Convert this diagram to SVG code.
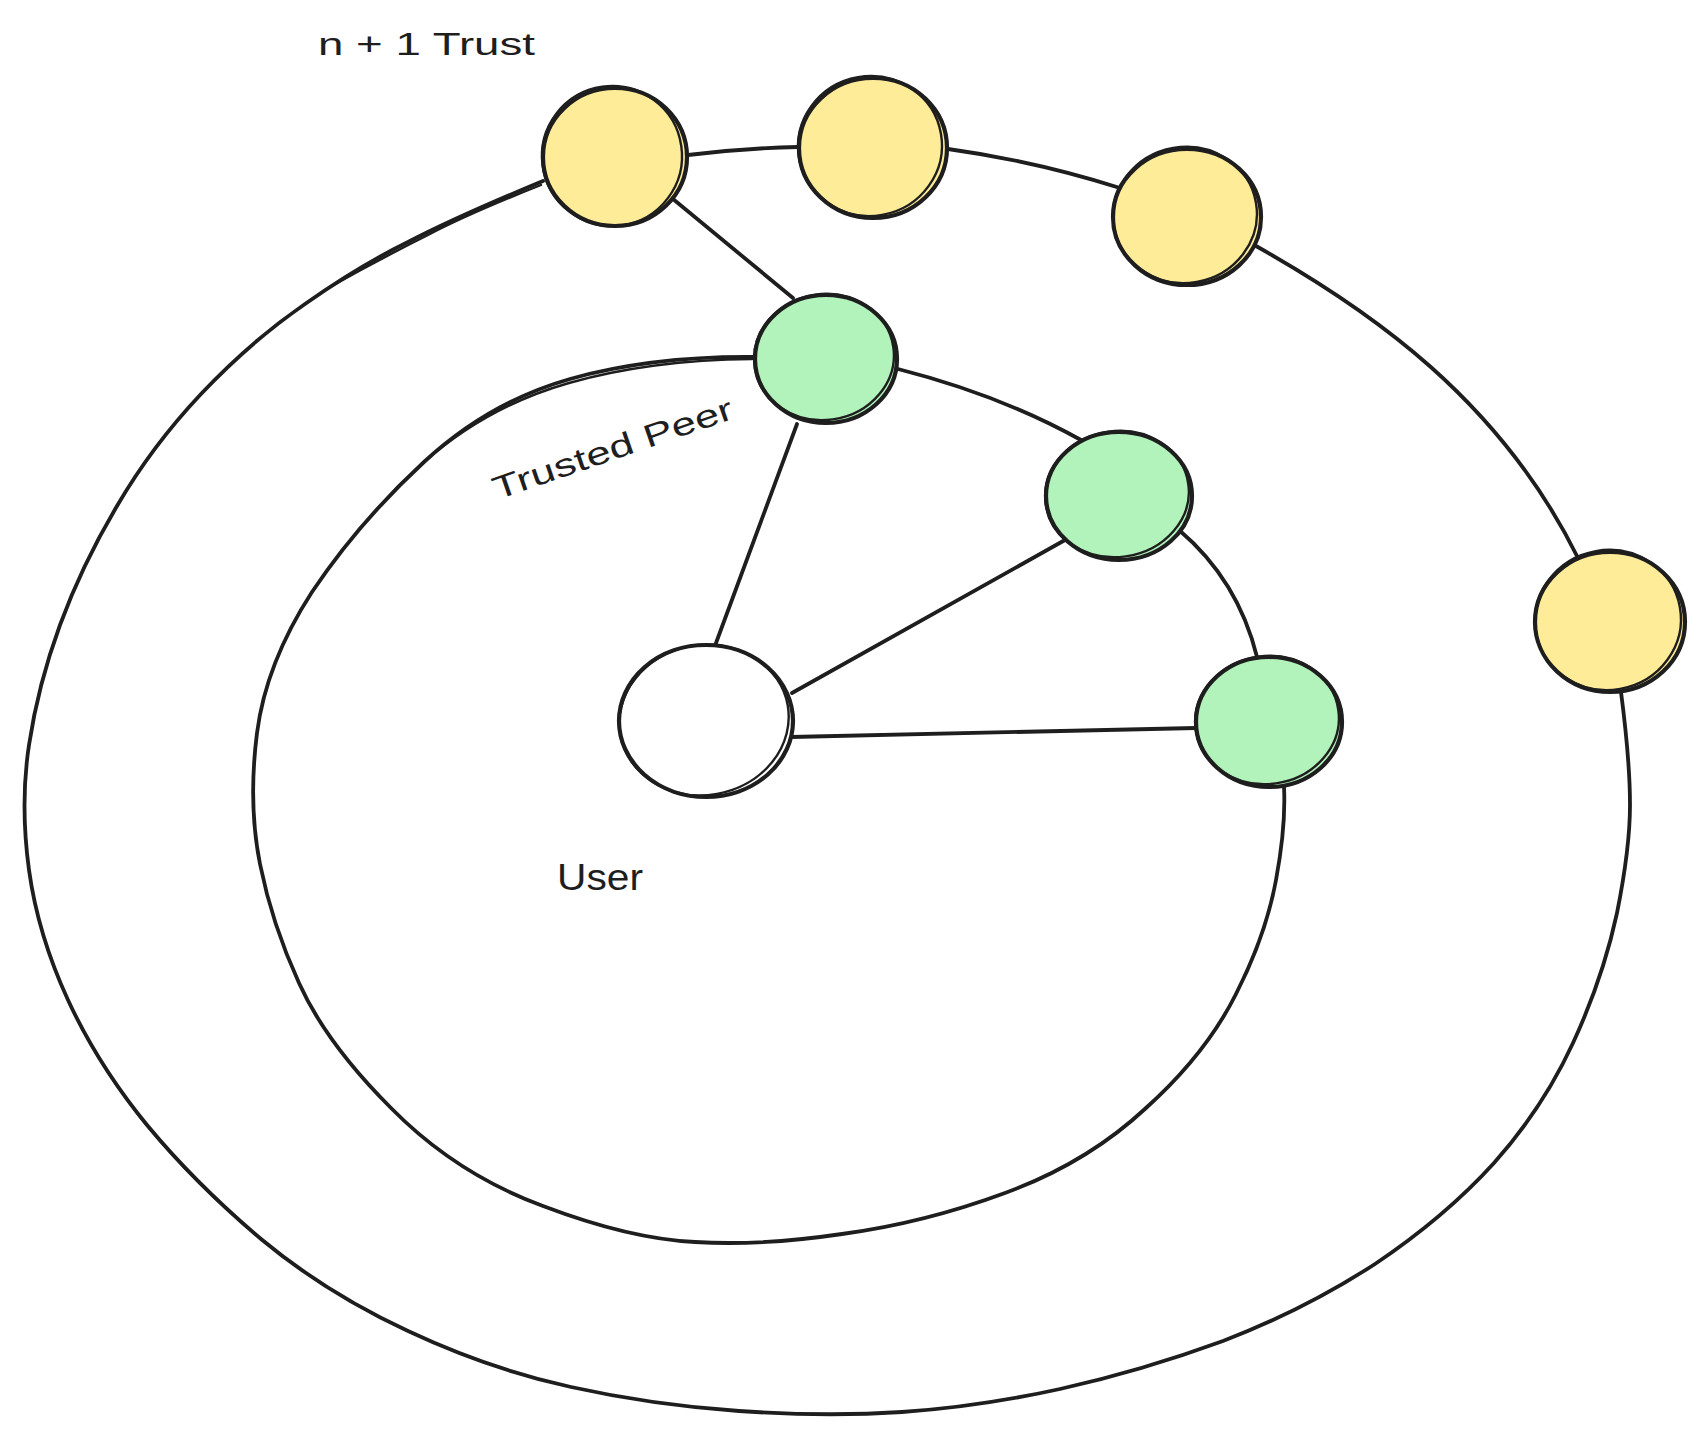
<svg xmlns="http://www.w3.org/2000/svg" width="1704" height="1437" viewBox="0 0 1704 1437">
  <style>
    .bg { fill: #ffffff; }
    .edge { fill: none; stroke: #1e1e1e; stroke-width: 3.8; stroke-linecap: round; stroke-linejoin: round; }
    .edge2 { fill: none; stroke: #1e1e1e; stroke-width: 2.4; stroke-linecap: round; }
    .ring { fill: none; stroke: #1e1e1e; stroke-width: 4.2; stroke-linecap: round; }
    .ring2 { fill: none; stroke: #1e1e1e; stroke-width: 2.4; }
    .yellow { fill: #ffec99; }
    .green { fill: #b2f2bb; }
    .white { fill: #ffffff; }
    .label { font-family: "Liberation Sans", "DejaVu Sans", sans-serif; font-size: 32px; fill: #1e1e1e; }
  </style>

  <rect class="bg" x="0" y="0" width="1704" height="1437"/>

  <!-- connectors -->
  <g id="connectors">
    <!-- outer ring: n + 1 trust -->
    <path class="edge" d="M 543,181 Q 456,217 408,242 Q 359,266 305,304 Q 250,342 201,394 Q 152,446 117,506 Q 82,565 60,625 Q 38,685 29,745 Q 20,804 29,870 Q 38,935 68,1000 Q 98,1065 147,1125 Q 196,1184 261,1239 Q 326,1293 408,1331 Q 489,1369 571,1387 Q 652,1405 739,1411 Q 826,1417 902,1412 Q 978,1407 1060,1389 Q 1141,1371 1223,1341 Q 1304,1310 1375,1264 Q 1445,1217 1494,1163 Q 1543,1108 1573,1043 Q 1603,978 1617,913 Q 1630,848 1630,805 Q 1630,761 1621,692"/>
    <path class="edge2" d="M 541,185 Q 468,214 428,235 Q 378,260 330,287"/>
    <path class="edge2" d="M 68,1000 Q 100,1069 149,1128 Q 198,1187 261,1239"/>
    <!-- inner ring: trusted peers -->
    <path class="edge" d="M 755,357 Q 652,356 570,379 Q 489,402 424,462 Q 359,522 312,592 Q 266,663 257,733 Q 248,804 260,864 Q 272,924 299,983 Q 326,1043 391,1108 Q 456,1174 543,1206 Q 630,1239 695,1242 Q 761,1246 842,1234 Q 924,1223 1005,1193 Q 1087,1163 1146,1108 Q 1206,1054 1236,994 Q 1266,935 1276,880 Q 1286,826 1284,787"/>
    <path class="edge2" d="M 752,359 Q 650,360 569,383 Q 488,406 424,462"/>

    <!-- links along the outer ring -->
    <path class="edge" d="M 688,155 Q 745,148 798,147"/>
    <path class="edge" d="M 948,149 Q 1035,161 1120,188"/>
    <path class="edge" d="M 1256,246 C 1370,310 1500,400 1578,558"/>

    <!-- links between rings and to the user -->
    <path class="edge" d="M 673,199 L 793,298"/>
    <path class="edge" d="M 898,369 Q 1000,395 1081,440"/>
    <path class="edge" d="M 1179,530 Q 1238,580 1257,657"/>
    <path class="edge" d="M 797,424 L 716,643"/>
    <path class="edge" d="M 1065,540 L 792,693"/>
    <path class="edge" d="M 791,737 L 1196,728"/>
  </g>

  <!-- n + 1 trust nodes -->
  <g id="trust-1">
    <ellipse class="yellow" cx="615" cy="157" rx="72" ry="69"/>
    <ellipse class="ring" cx="615" cy="157" rx="72" ry="69"/>
    <ellipse class="ring2" cx="612" cy="156" rx="70" ry="70" transform="rotate(-8 612 156)"/>
  </g>
  <g id="trust-2">
    <ellipse class="yellow" cx="873" cy="148" rx="74" ry="70"/>
    <ellipse class="ring" cx="873" cy="148" rx="74" ry="70"/>
    <ellipse class="ring2" cx="870" cy="146" rx="72" ry="70" transform="rotate(-10 870 146)"/>
  </g>
  <g id="trust-3">
    <ellipse class="yellow" cx="1187" cy="217" rx="74" ry="68"/>
    <ellipse class="ring" cx="1187" cy="217" rx="74" ry="68"/>
    <ellipse class="ring2" cx="1185" cy="215" rx="72" ry="68" transform="rotate(-10 1185 215)"/>
  </g>
  <g id="trust-4">
    <ellipse class="yellow" cx="1610" cy="622" rx="75" ry="70"/>
    <ellipse class="ring" cx="1610" cy="622" rx="75" ry="70"/>
    <ellipse class="ring2" cx="1608" cy="620" rx="73" ry="70" transform="rotate(-10 1608 620)"/>
  </g>

  <!-- trusted peer nodes -->
  <g id="peer-1">
    <ellipse class="green" cx="826" cy="359" rx="71" ry="64"/>
    <ellipse class="ring" cx="826" cy="359" rx="71" ry="64"/>
    <ellipse class="ring2" cx="824" cy="357" rx="70" ry="63" transform="rotate(-8 824 357)"/>
  </g>
  <g id="peer-2">
    <ellipse class="green" cx="1119" cy="496" rx="73" ry="64"/>
    <ellipse class="ring" cx="1119" cy="496" rx="73" ry="64"/>
    <ellipse class="ring2" cx="1117" cy="494" rx="72" ry="63" transform="rotate(-8 1117 494)"/>
  </g>
  <g id="peer-3">
    <ellipse class="green" cx="1269" cy="722" rx="73" ry="65"/>
    <ellipse class="ring" cx="1269" cy="722" rx="73" ry="65"/>
    <ellipse class="ring2" cx="1267" cy="720" rx="72" ry="64" transform="rotate(-8 1267 720)"/>
  </g>

  <!-- user node -->
  <g id="user">
    <ellipse class="white" cx="706" cy="721" rx="87" ry="76"/>
    <ellipse class="ring" cx="706" cy="721" rx="87" ry="76"/>
    <ellipse class="ring2" cx="704" cy="720" rx="85" ry="75" transform="rotate(-10 704 720)"/>
  </g>

  <!-- labels -->
  <g id="labels">
    <text class="label" x="318" y="55" textLength="217" lengthAdjust="spacingAndGlyphs">n + 1 Trust</text>
    <text class="label" x="497" y="500" textLength="252" lengthAdjust="spacingAndGlyphs" transform="rotate(-19 497 500)">Trusted Peer</text>
    <text class="label" x="557" y="890" style="font-size:36px" textLength="86" lengthAdjust="spacingAndGlyphs">User</text>
  </g>
</svg>
